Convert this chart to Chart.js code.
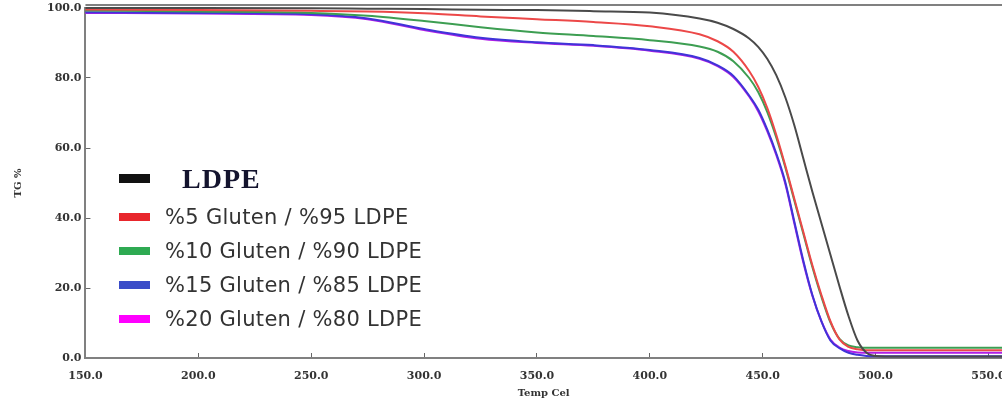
<!DOCTYPE html>
<html>
<head>
<meta charset="utf-8">
<script src="https://cdn.jsdelivr.net/npm/chart.js@4"></script>
<style>
  html, body { margin: 0; padding: 0; background: #fff; }
  #wrap { position: relative; width: 1002px; height: 408px; overflow: hidden; }
  #legend { position: absolute; left: 119px; top: 157px; }
  .row { display: flex; align-items: center; height: 34px; }
  .row:first-child { height: 43px; }
  .box { width: 31px; height: 8px; margin-right: 15px; flex: none; }
  .row:first-child .box { height: 9px; margin-right: 32px; }
  .txt { font-family: "DejaVu Sans", Verdana, sans-serif; font-size: 21px; letter-spacing: 0.3px; color: #333; white-space: nowrap; }
  .row:first-child .txt { font-family: "Liberation Serif", "Times New Roman", serif; font-weight: bold; font-size: 28px; letter-spacing: 1px; color: #14142e; }
</style>
</head>
<body>
<div id="wrap">
  <canvas id="tgChart"></canvas>
  <div id="legend"></div>
</div>
<script>
'use strict';

// Temperatura (°C) - eje X
const temps = [150, 200, 250, 275, 300, 325, 350, 375, 400, 422, 430, 437, 444, 448, 452, 456, 460, 464, 468, 472, 476, 480, 484, 488, 492, 496, 500, 510, 530, 556];

// TG % por muestra
const ldpe   = [100, 100, 99.9, 99.8, 99.7, 99.5, 99.4, 99.1, 98.7, 97, 95.8, 94, 91.3, 88.9, 85.5, 80.8, 74.5, 66.5, 57, 47.5, 38.5, 29.5, 20.5, 12, 5, 1.5, 0.6, 0.4, 0.4, 0.4];
const glu5   = [99.6, 99.4, 99.2, 99, 98.5, 97.6, 96.8, 96, 94.8, 92.5, 90.5, 87.5, 82, 77.5, 71.5, 63.8, 55, 45.5, 36, 26.5, 18, 10.5, 5.3, 3.2, 2.5, 2.2, 2.2, 2.2, 2.2, 2.2];
const glu10  = [99.3, 99, 98.6, 97.8, 96.3, 94.5, 93, 92, 90.8, 89, 87.5, 84.8, 80, 76, 70.3, 63, 54.5, 45, 35.5, 26, 17.5, 10.2, 5.5, 3.6, 3.1, 2.9, 2.9, 2.9, 2.9, 2.9];
const glu15  = [98.8, 98.6, 98.2, 97, 94, 91.5, 90.2, 89.4, 88, 85.7, 83.6, 80.6, 75, 71, 65.3, 58.5, 50.3, 39, 27.8, 18, 10.5, 5, 2.8, 1.5, 0.9, 0.6, 0.5, 0.5, 0.5, 0.5];
const glu20  = [98.6, 98.4, 98, 96.8, 93.7, 91.2, 90, 89.2, 87.8, 85.5, 83.4, 80.3, 74.7, 70.5, 64.8, 58, 49.8, 38.5, 27.3, 17.8, 10.5, 5.3, 3, 2, 1.6, 1.5, 1.5, 1.5, 1.5, 1.5];

const seriesLabels = ['LDPE', '%5 Gluten / %95 LDPE', '%10 Gluten / %90 LDPE', '%15 Gluten / %85 LDPE', '%20 Gluten / %80 LDPE'];
const seriesValues = [ldpe, glu5, glu10, glu15, glu20];

const lineColors = ['#4a4a4a', '#ec4848', '#3d9e52', '#4034d8', '#b01ee8'];
const boxColors  = ['#111111', '#e8262c', '#2eaa52', '#3a4cc8', '#ff00ff'];

const axisColor = '#808080';
const tickFont = { family: '"DejaVu Serif", "Liberation Serif", serif', size: 11, weight: 'bold' };
const titleFont = { family: '"DejaVu Serif", "Liberation Serif", serif', size: 10, weight: 'bold' };

// línea superior del marco
const topBorder = {
    id: 'topBorder',
    afterDraw(chart) {
        const { ctx, chartArea } = chart;
        ctx.save();
        ctx.strokeStyle = axisColor;
        ctx.lineWidth = 2;
        ctx.beginPath();
        ctx.moveTo(chartArea.left, chartArea.top - 3);
        ctx.lineTo(chartArea.right, chartArea.top - 3);
        ctx.stroke();
        ctx.restore();
    }
};

const datasets = seriesValues.map((vals, i) => ({
    label: seriesLabels[i],
    data: temps.map((t, k) => ({ x: t, y: vals[k] })),
    borderColor: lineColors[i],
    backgroundColor: lineColors[i],
    borderWidth: 2,
    pointRadius: 0,
    cubicInterpolationMode: 'monotone',
    fill: false,
    clip: 6
}));

new Chart(document.getElementById('tgChart'), {
    type: 'line',
    data: { datasets: datasets },
    options: {
        responsive: true,
        maintainAspectRatio: false,
        animation: false,
        layout: { padding: { top: 8, right: 0, bottom: 9, left: 12 } },
        plugins: {
            legend: { display: false },
            tooltip: { enabled: false }
        },
        scales: {
            x: {
                type: 'linear',
                min: 150,
                max: 556,
                afterFit: scale => {
                    scale.paddingRight = 0;
                    scale.height = 41;
                },
                grid: { drawOnChartArea: false, tickLength: -5, color: '#666' },
                border: { color: axisColor, width: 2 },
                ticks: {
                    stepSize: 50,
                    includeBounds: false,
                    maxRotation: 0,
                    autoSkip: false,
                    padding: 17,
                    color: '#333',
                    font: tickFont,
                    callback: v => v.toFixed(1)
                },
                title: {
                    display: true,
                    text: 'Temp Cel',
                    color: '#333',
                    font: titleFont,
                    padding: { top: 0, bottom: 0 }
                }
            },
            y: {
                min: 0,
                max: 100,
                afterFit: scale => {
                    scale.paddingTop = 0;
                    scale.paddingBottom = 0;
                },
                grid: { drawOnChartArea: false, tickLength: -5, color: '#666' },
                border: { color: axisColor, width: 2 },
                ticks: {
                    stepSize: 20,
                    padding: 9,
                    color: '#333',
                    font: tickFont,
                    callback: v => v.toFixed(1)
                },
                title: {
                    display: true,
                    text: 'TG %',
                    color: '#333',
                    font: titleFont,
                    padding: { top: 0, bottom: 14 }
                }
            }
        }
    },
    plugins: [topBorder]
});

// Leyenda en HTML (la primera entrada usa otra fuente)
const legend = document.getElementById('legend');
seriesLabels.forEach((lbl, i) => {
    const row = document.createElement('div');
    row.className = 'row';
    const box = document.createElement('span');
    box.className = 'box';
    box.style.background = boxColors[i];
    const txt = document.createElement('span');
    txt.className = 'txt';
    txt.textContent = lbl;
    row.appendChild(box);
    row.appendChild(txt);
    legend.appendChild(row);
});
</script>
</body>
</html>
